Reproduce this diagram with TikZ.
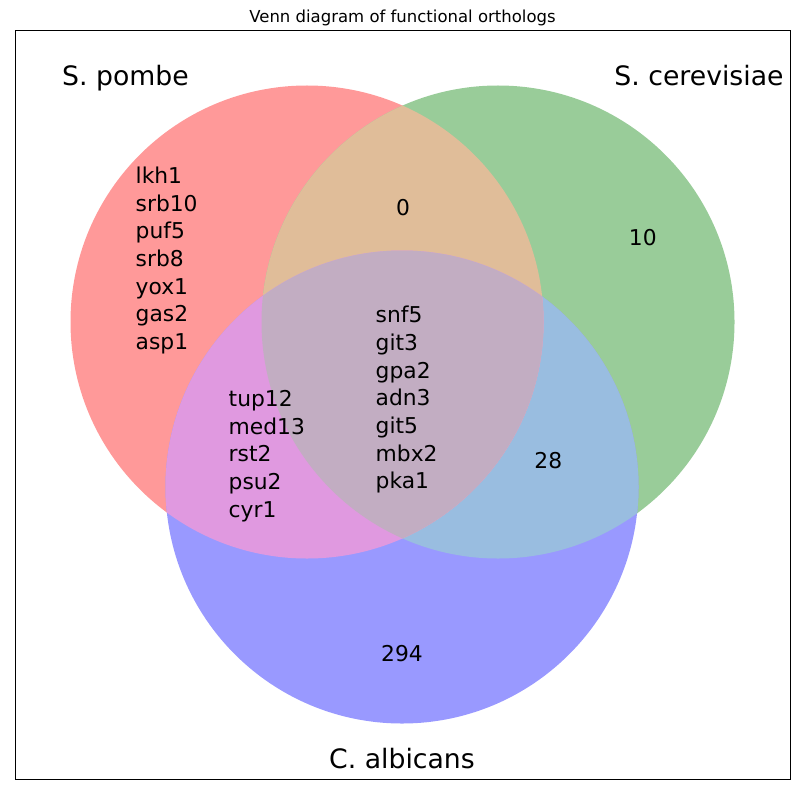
\documentclass[tikz,border=0pt]{standalone}
\usepackage{fontspec}
\setmainfont{DejaVu Sans}
\usetikzlibrary{positioning}

\definecolor{pombecol}{RGB}{255,153,153}
\definecolor{cerevcol}{RGB}{153,204,153}
\definecolor{albiccol}{RGB}{153,153,255}
\definecolor{pcmix}{RGB}{224,189,153}
\definecolor{pamix}{RGB}{224,153,224}
\definecolor{camix}{RGB}{153,189,224}
\definecolor{allmix}{RGB}{194,173,194}

\tikzset{
	setname/.style={inner sep=0pt, anchor=base, font=\fontsize{26.7}{32}\selectfont},
	count/.style={inner sep=0pt, anchor=base, font=\fontsize{21.8}{27.65}\selectfont},
	genes/.style={inner sep=0pt, anchor=north west, align=left, font=\fontsize{21.8}{27.65}\selectfont},
}

\begin{document}
\begin{tikzpicture}[x=1pt, y=-1pt]

\def\width{799}
\def\height{794}
\def\rad{236.5pt}

\path [use as bounding box] (0,0) rectangle (\width,\height);

\coordinate (pombe) at (307,322);
\coordinate (cerev) at (498,322);
\coordinate (albic) at (402,487);

% SETS
\fill [pombecol] (pombe) circle [radius=\rad];
\fill [cerevcol] (cerev) circle [radius=\rad];
\fill [albiccol] (albic) circle [radius=\rad];

% OVERLAPS
\begin{scope}
	\clip (cerev) circle [radius=\rad];
	\fill [camix] (albic) circle [radius=\rad];
\end{scope}
\begin{scope}
	\clip (pombe) circle [radius=\rad];
	\fill [pcmix] (cerev) circle [radius=\rad];
	\fill [pamix] (albic) circle [radius=\rad];
	\clip (cerev) circle [radius=\rad];
	\fill [allmix] (albic) circle [radius=\rad];
\end{scope}

% FRAME
\draw [line width=0.9pt] (15,30) rectangle (790,779);
\node [inner sep=0pt, anchor=base, font=\fontsize{16.5}{20}\selectfont] (title) at (402.5,22.7) {Venn diagram of functional orthologs};

% LABELS
\node [setname] (pombename) at (125.5,86) {S. pombe};
\node [setname] (cerevname) at (699,86) {S. cerevisiae};
\node [setname] (albicname) at (402,768) {C. albicans};

\node [count] (pc) at (403,215) {0};
\node [count] (conly) at (642.8,245) {10};
\node [count] (ca) at (548.3,468.3) {28};
\node [count] (aonly) at (402,661.7) {294};

\node [genes] (ponly) at (135.5,166.7) {lkh1\\srb10\\puf5\\srb8\\yox1\\gas2\\asp1};
\node [genes] (pa) at (228.5,390.1) {tup12\\med13\\rst2\\psu2\\cyr1};
\node [genes] (pca) at (375.5,306.1) {snf5\\git3\\gpa2\\adn3\\git5\\mbx2\\pka1};

\end{tikzpicture}
\end{document}
